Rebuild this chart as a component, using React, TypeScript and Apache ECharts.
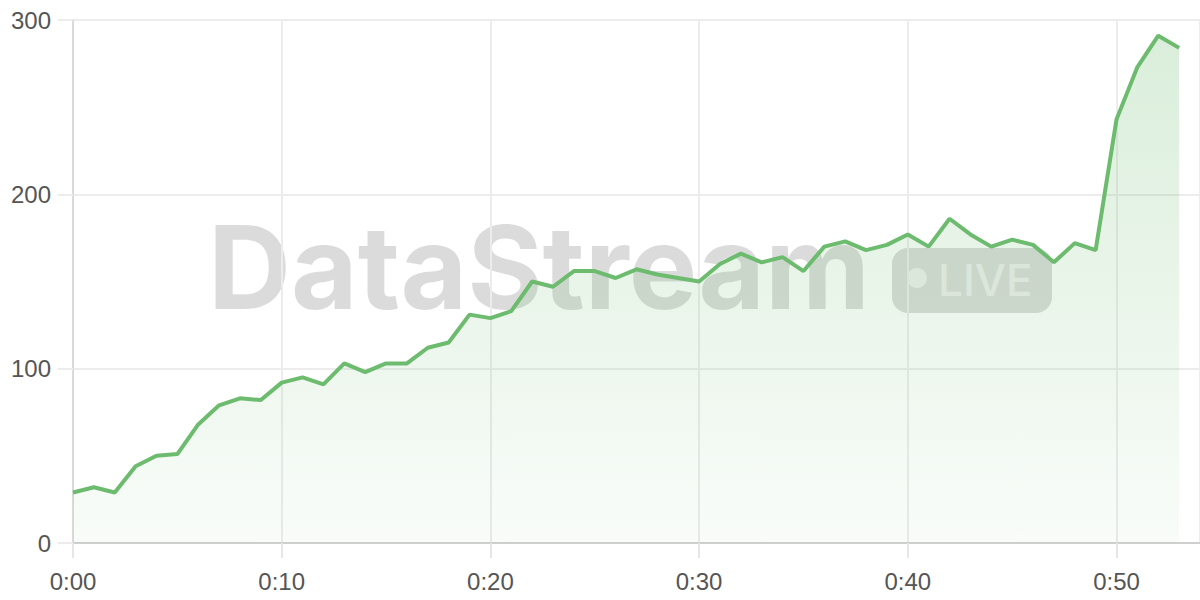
import React, { useEffect, useRef } from 'react'
import * as echarts from 'echarts'

// one reading per minute, 0:00 .. 0:53
const values = [
    29, 32, 29, 44, 50, 51, 68, 79, 83, 82,
    92, 95, 91, 103, 98, 103, 103, 112, 115, 131,
    129, 133, 150, 147, 156, 156, 152, 157, 154, 152,
    150, 160, 166, 161, 164, 156, 170, 173, 168, 171,
    177, 170, 186, 177, 170, 174, 171, 161, 172, 168,
    243, 273, 291, 284,
]
const yTicks = [0, 100, 200, 300]
const xMax = 54

const fmtTime = (v: number) => `${Math.floor(v / 60)}:${String(v % 60).padStart(2, '0')}`

const App: React.FC = () => {
    const chartRef = useRef<HTMLDivElement | null>(null)

    useEffect(() => {
        if (!chartRef.current) return
        const chart = echarts.init(chartRef.current, null, { renderer: 'svg' })

        const lineColor = '#6dbb6f'
        const font = '"Liberation Sans", Arial, sans-serif'

        chart.setOption({
            animation: false,
            grid: { left: 73, right: 0, top: 20, bottom: 57, containLabel: false },
            xAxis: {
                type: 'value',
                min: 0,
                max: xMax,
                interval: 10,
                axisLine: { lineStyle: { color: '#cfcfcf', width: 2 } },
                axisTick: { show: true, length: 15, lineStyle: { color: '#e6e6e6', width: 2 } },
                axisLabel: {
                    margin: 26,
                    fontSize: 24,
                    color: '#555',
                    fontFamily: font,
                    showMaxLabel: false,
                    formatter: (v: number) => fmtTime(v),
                },
                splitLine: { show: true, lineStyle: { color: '#ececec', width: 2 } },
            },
            yAxis: {
                type: 'value',
                min: yTicks[0],
                max: yTicks[yTicks.length - 1],
                interval: 100,
                axisLine: { show: true, lineStyle: { color: '#dadada', width: 2 } },
                axisTick: { show: true, length: 15, lineStyle: { color: '#ececec', width: 2 } },
                axisLabel: { margin: 22, fontSize: 24, color: '#555', fontFamily: font },
                splitLine: { show: true, lineStyle: { color: '#ececec', width: 2 } },
            },
            graphic: [
                {
                    type: 'text',
                    left: 208,
                    top: 210,
                    z: 0,
                    style: {
                        text: 'DataStream',
                        fontFamily: 'Inter, "Open Sans", sans-serif',
                        fontWeight: 'bold',
                        fontSize: 115,
                        fill: 'rgba(0,0,0,0.14)',
                    },
                },
                {
                    type: 'group',
                    left: 892,
                    top: 248,
                    z: 0,
                    children: [
                        {
                            type: 'rect',
                            shape: { x: 0, y: 0, width: 160, height: 65, r: 16 },
                            style: { fill: 'rgba(0,0,0,0.14)' },
                        },
                        {
                            type: 'circle',
                            shape: { cx: 25, cy: 30, r: 10 },
                            style: { fill: 'rgba(255,255,255,0.55)' },
                        },
                        {
                            type: 'text',
                            x: 46,
                            y: 32,
                            style: {
                                text: 'LIVE',
                                fontFamily: 'Inter, "Open Sans", sans-serif',
                                fontSize: 44,
                                fontWeight: 500,
                                fill: 'rgba(255,255,255,0.55)',
                                verticalAlign: 'middle',
                            },
                        },
                    ],
                },
            ],
            series: [
                {
                    type: 'line',
                    data: values.map((v, i) => [i, v]),
                    showSymbol: false,
                    lineStyle: { color: lineColor, width: 4 },
                    itemStyle: { color: lineColor },
                    areaStyle: {
                        color: new echarts.graphic.LinearGradient(0, 0, 0, 1, [
                            { offset: 0, color: 'rgba(109,187,111,0.36)' },
                            { offset: 1, color: 'rgba(109,187,111,0.06)' },
                        ]),
                    },
                },
            ],
        })

        return () => {
            chart.dispose()
        }
    }, [])

    return (
        <div
            ref={chartRef}
            style={{ position: 'fixed', left: 0, top: 0, width: 1200, height: 600, background: '#fff' }}
        />
    )
}

export default App
